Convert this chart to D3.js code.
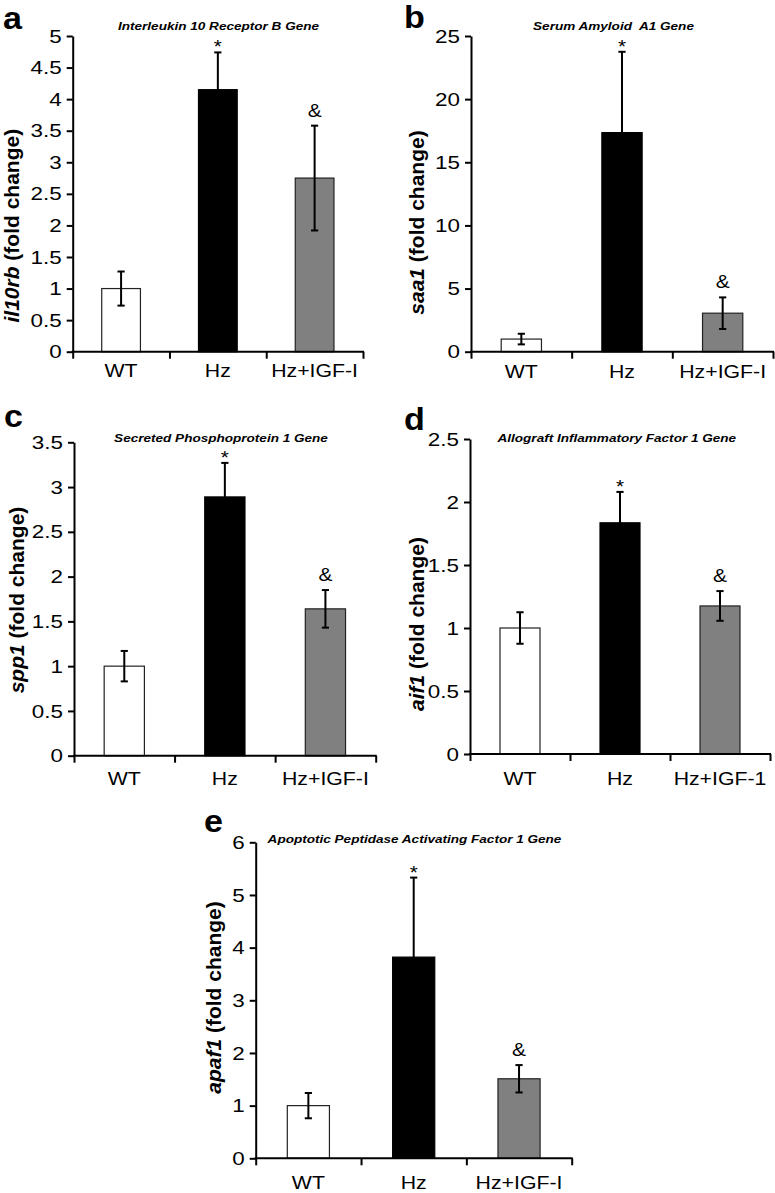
<!DOCTYPE html>
<html>
<head>
<meta charset="utf-8">
<script src="https://cdn.jsdelivr.net/npm/d3@7"></script>
<style>
  html, body { margin: 0; padding: 0; background: #fff; }
  svg { display: block; }
  text { font-family: "Liberation Sans", Arial, Helvetica, sans-serif; fill: #000; }
</style>
</head>
<body>
<svg id="chart" width="775" height="1193"></svg>
<script>
// ---------- data ----------
const categories   = ["WT", "Hz", "Hz+IGF-I"];
const categoriesD  = ["WT", "Hz", "Hz+IGF-1"];
const panelLetters = ["a", "b", "c", "d", "e"];
const panelTitles  = [
  "Interleukin 10 Receptor B Gene",
  "Serum Amyloid  A1 Gene",
  "Secreted Phosphoprotein 1 Gene",
  "Allograft Inflammatory Factor 1 Gene",
  "Apoptotic Peptidase Activating Factor 1 Gene"
];
const geneNames = ["il10rb", "saa1", "spp1", "aif1", "apaf1"];

const meansA = [1.0, 4.15, 2.75];   const errA = [0.27, 0.59, 0.83];
const meansB = [1.0, 17.35, 3.05];  const errB = [0.42, 6.4, 1.25];
const meansC = [1.0, 2.89, 1.64];   const errC = [0.17, 0.38, 0.21];
const meansD = [1.0, 1.835, 1.175]; const errD = [0.125, 0.245, 0.118];
const meansE = [1.0, 3.82, 1.51];   const errE = [0.24, 1.51, 0.26];

const ticksA = [0, 0.5, 1, 1.5, 2, 2.5, 3, 3.5, 4, 4.5, 5];
const ticksB = [0, 5, 10, 15, 20, 25];
const ticksC = [0, 0.5, 1, 1.5, 2, 2.5, 3, 3.5];
const ticksD = [0, 0.5, 1, 1.5, 2, 2.5];
const ticksE = [0, 1, 2, 3, 4, 5, 6];

const annotations = ["", "*", "&"];

// ---------- layout (positions only) ----------
const panels = [
  { means: meansA, err: errA, ticks: ticksA, cats: categories,
    x0: 72.7, x1: 363, yBot: 351.7, yTop: 36,
    letterX: 3, letterY: 29, titleX: 218.5, titleY: 30,
    ylabX: 19, ylabY: 225.7, xlabDy: 25.5 },
  { means: meansB, err: errB, ticks: ticksB, cats: categories,
    x0: 471, x1: 773, yBot: 351.7, yTop: 36,
    letterX: 404, letterY: 28, titleX: 613.5, titleY: 30,
    ylabX: 424, ylabY: 222.5, xlabDy: 26 },
  { means: meansC, err: errC, ticks: ticksC, cats: categories,
    x0: 74, x1: 375.7, yBot: 755.7, yTop: 442.3,
    letterX: 4, letterY: 427, titleX: 221, titleY: 442,
    ylabX: 23.5, ylabY: 600, xlabDy: 29.5 },
  { means: meansD, err: errD, ticks: ticksD, cats: categoriesD,
    x0: 470, x1: 770, yBot: 754, yTop: 439,
    letterX: 404, letterY: 430, titleX: 616.8, titleY: 442,
    ylabX: 424, ylabY: 624, xlabDy: 30.5 },
  { means: meansE, err: errE, ticks: ticksE, cats: categories,
    x0: 255.7, x1: 571.7, yBot: 1158.3, yTop: 842.3,
    letterX: 204, letterY: 832, titleX: 414.5, titleY: 843,
    ylabX: 221, ylabY: 997.5, xlabDy: 30.5 }
];

const fills   = ["#ffffff", "#000000", "#808080"];
const strokes = ["#222222", "#000000", "#222222"];

const svg = d3.select("#chart");

panels.forEach((p, pi) => {
  const g = svg.append("g");
  const yMax = p.ticks[p.ticks.length - 1];
  const y = d3.scaleLinear().domain([0, yMax]).range([p.yBot, p.yTop]);
  const x = d3.scaleBand().domain(p.cats).range([p.x0, p.x1])
              .paddingInner(0.6).paddingOuter(0.3);
  const xb = d3.scaleLinear().domain([0, p.cats.length]).range([p.x0, p.x1]);

  // bars
  g.selectAll("rect.bar").data(p.means).join("rect")
    .attr("class", "bar")
    .attr("x", (d, i) => x(p.cats[i]))
    .attr("width", x.bandwidth())
    .attr("y", d => y(d))
    .attr("height", d => y(0) - y(d))
    .attr("fill", (d, i) => fills[i])
    .attr("stroke", (d, i) => strokes[i])
    .attr("stroke-width", 1.2);

  // error bars
  const cap = 3.6;
  const eb = g.selectAll("g.err").data(p.means).join("g").attr("class", "err");
  eb.append("line")
    .attr("x1", (d, i) => x(p.cats[i]) + x.bandwidth() / 2)
    .attr("x2", (d, i) => x(p.cats[i]) + x.bandwidth() / 2)
    .attr("y1", (d, i) => y(d - p.err[i]))
    .attr("y2", (d, i) => y(d + p.err[i]))
    .attr("stroke", "#000").attr("stroke-width", 2);
  eb.append("line")
    .attr("x1", (d, i) => x(p.cats[i]) + x.bandwidth() / 2 - cap)
    .attr("x2", (d, i) => x(p.cats[i]) + x.bandwidth() / 2 + cap)
    .attr("y1", (d, i) => y(d + p.err[i]))
    .attr("y2", (d, i) => y(d + p.err[i]))
    .attr("stroke", "#000").attr("stroke-width", 2);
  eb.append("line")
    .attr("x1", (d, i) => x(p.cats[i]) + x.bandwidth() / 2 - cap)
    .attr("x2", (d, i) => x(p.cats[i]) + x.bandwidth() / 2 + cap)
    .attr("y1", (d, i) => y(d - p.err[i]))
    .attr("y2", (d, i) => y(d - p.err[i]))
    .attr("stroke", "#000").attr("stroke-width", 2);

  // annotations
  p.means.forEach((d, i) => {
    const a = annotations[i];
    if (!a) return;
    const cx = x(p.cats[i]) + x.bandwidth() / 2;
    const top = y(d + p.err[i]);
    if (a === "*") {
      g.append("text").attr("transform", `translate(${cx},${top + 1}) scale(1.15,1)`)
        .attr("text-anchor", "middle").attr("font-size", 18).text(a);
    } else {
      g.append("text").attr("transform", `translate(${cx},${top - 9}) scale(1.1,1)`)
        .attr("text-anchor", "middle").attr("font-size", 19).text(a);
    }
  });

  // y axis
  const yAxis = g.append("g").attr("transform", `translate(${p.x0},0)`)
    .call(d3.axisLeft(y).tickValues(p.ticks).tickSize(6).tickSizeOuter(0)
      .tickPadding(5).tickFormat(d => String(d)));
  yAxis.select(".domain").attr("stroke", "#000").attr("stroke-width", 2);
  yAxis.selectAll(".tick line").attr("stroke", "#000").attr("stroke-width", 2);
  yAxis.selectAll(".tick text")
    .attr("font-family", null).attr("font-size", 19)
    .attr("x", -11 / 1.18).attr("transform", "scale(1.18,1)");

  // x axis (boundary ticks)
  const xAxis = g.append("g").attr("transform", `translate(0,${p.yBot})`)
    .call(d3.axisBottom(xb).tickValues(d3.range(p.cats.length + 1))
      .tickSize(7).tickSizeOuter(0).tickFormat(""));
  xAxis.select(".domain").attr("stroke", "#000").attr("stroke-width", 2)
    .attr("d", `M${p.x0 - 1},0H${p.x1 + 1}`);
  xAxis.selectAll(".tick line").attr("stroke", "#000").attr("stroke-width", 2);

  // category labels
  g.selectAll("text.cat").data(p.cats).join("text")
    .attr("class", "cat")
    .attr("transform", d => `translate(${x(d) + x.bandwidth() / 2},${p.yBot + p.xlabDy}) scale(1.12,1)`)
    .attr("text-anchor", "middle").attr("font-size", 19)
    .text(d => d);

  // y label
  const yl = g.append("text")
    .attr("transform", `translate(${p.ylabX},${p.ylabY}) rotate(-90)`)
    .attr("text-anchor", "middle").attr("font-size", 21).attr("font-weight", "bold");
  yl.append("tspan").attr("font-style", "italic").text(geneNames[pi]);
  yl.append("tspan").text(" (fold change)");

  // title
  g.append("text")
    .attr("transform", `translate(${p.titleX},${p.titleY}) scale(1.2,1)`)
    .attr("text-anchor", "middle").attr("font-size", 11.3)
    .attr("font-weight", "bold").attr("font-style", "italic")
    .style("white-space", "pre")
    .text(panelTitles[pi]);

  // panel letter
  g.append("text")
    .attr("transform", `translate(${p.letterX},${p.letterY}) scale(1.1,1)`)
    .attr("font-size", 31).attr("font-weight", "bold")
    .text(panelLetters[pi]);
});
</script>
</body>
</html>
